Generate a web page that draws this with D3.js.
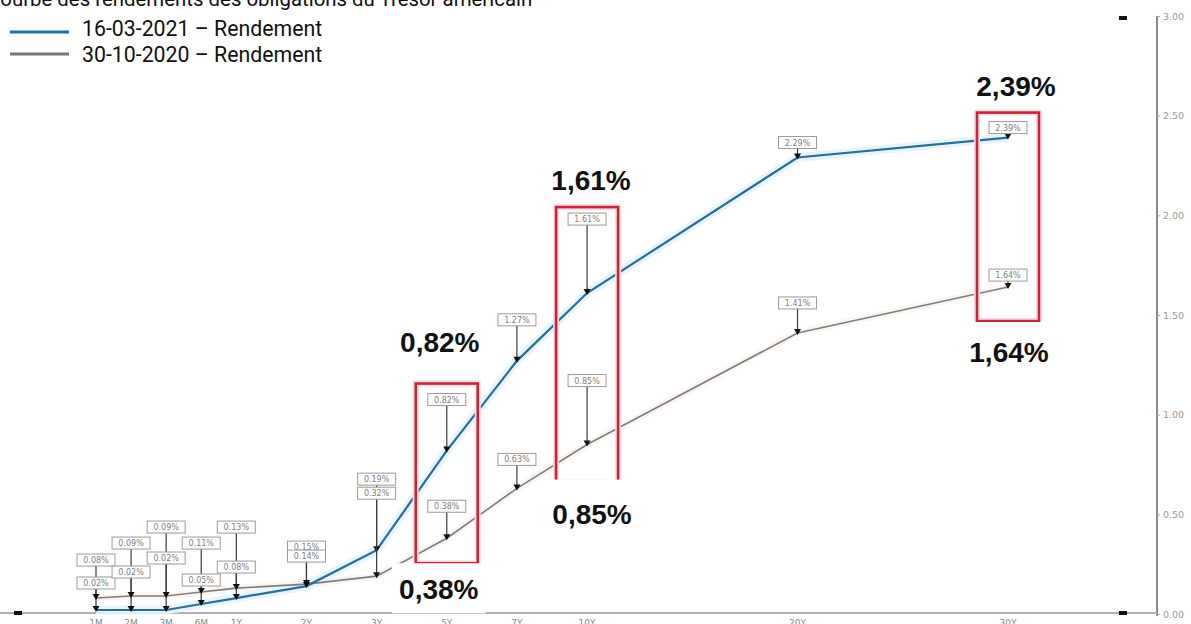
<!DOCTYPE html>
<html>
<head>
<meta charset="utf-8">
<script src="https://cdn.jsdelivr.net/npm/d3@7/dist/d3.min.js"></script>
<style>
  html, body { margin: 0; padding: 0; background: #fff; overflow: hidden; }
  svg { display: block; }
</style>
</head>
<body>
<svg id="chart" width="1191" height="624"></svg>
<script>
// Maturities along the curve and their spacing slot (months compressed, years widened)
const maturities = ["1M", "2M", "3M", "6M", "1Y", "2Y", "3Y", "5Y", "7Y", "10Y", "20Y", "30Y"];
const slots      = [0, 1, 2, 3, 4, 6, 8, 10, 12, 14, 20, 26];

// Yields in %
const yield2021 = [0.02, 0.02, 0.02, 0.05, 0.08, 0.14, 0.32, 0.82, 1.27, 1.61, 2.29, 2.39];
const yield2020 = [0.08, 0.09, 0.09, 0.11, 0.13, 0.15, 0.19, 0.38, 0.63, 0.85, 1.41, 1.64];

// Right axis ticks
const yTicks = [0, 0.5, 1, 1.5, 2, 2.5, 3];

// Series names
const seriesNames = ["16-03-2021 \u2013 Rendement", "30-10-2020 \u2013 Rendement"];
const titleText = "Courbe des rendements des obligations du Tr\u00e9sor am\u00e9ricain";

// Highlighted maturities with their two big callouts
const highlightMaturities = ["5Y", "10Y", "30Y"];

// Layout: how far (px) each small value tag sits above its point
const tagLift2021 = [27, 38, 52, 24, 31, 30, 57, 51, 41, 74, 15, 10];
const tagLift2020 = [38, 53, 69, 49, 61, 37, 97, 32, 29, 64, 30, 12];

const svg = d3.select("#chart");

const x = d3.scaleLinear().domain([0, 26]).range([96, 1008]);
const y = d3.scaleLinear().domain([0, 3]).range([614, 16]);

const blue = "#2a6d96";
const gray = "#7e7e7e";

const fmtSmall = v => v.toFixed(2) + "%";
const fmtBig = v => v.toFixed(2).replace(".", ",") + "%";

// ---- Title & legend ----
svg.append("text")
  .attr("x", -13).attr("y", 6)
  .attr("font-family", "Roboto, sans-serif")
  .attr("font-size", 20.4)
  .attr("fill", "#111")
  .text(titleText);

const legend = svg.append("g");
["#1f6fb2", "#777"].forEach((c, i) => {
  const ly = i === 0 ? 32 : 54;
  legend.append("line")
    .attr("x1", 10).attr("x2", 69).attr("y1", ly).attr("y2", ly)
    .attr("stroke", c).attr("stroke-width", 3);
  legend.append("text")
    .attr("x", 82).attr("y", i === 0 ? 35.5 : 62)
    .attr("font-family", "Roboto, sans-serif")
    .attr("font-size", 21.3)
    .attr("fill", "#111")
    .text(seriesNames[i]);
});

// ---- Right axis ----
const axisX = 1157;
const yAxis = d3.axisRight(y).tickValues(yTicks).tickSize(3).tickFormat(d3.format(".2f"));
const axG = svg.append("g").attr("transform", `translate(${axisX},0)`).call(yAxis);
axG.select(".domain").attr("stroke", "#8a8a8a").attr("stroke-width", 2)
  .attr("d", `M0,${y(3)}V${y(0) + 2}`);
axG.selectAll(".tick line").attr("stroke", "#aaa");
axG.selectAll(".tick text")
  .attr("x", 6)
  .attr("font-family", "DejaVu Sans, sans-serif")
  .attr("font-size", 9.5)
  .attr("fill", "#9a9a9a");

// Baseline
svg.append("line")
  .attr("x1", 0).attr("x2", axisX).attr("y1", y(0) - 1).attr("y2", y(0) - 1)
  .attr("stroke", "#b0b0b0").attr("stroke-width", 2);

// Small handle marks
[[14, y(0) - 3], [1119, y(0) - 3], [1119, 16]].forEach(p => {
  svg.append("rect").attr("x", p[0]).attr("y", p[1]).attr("width", 8).attr("height", 4)
    .attr("fill", "#111");
});

// Bottom maturity labels (partially clipped by the frame)
svg.append("g").selectAll("text").data(maturities).join("text")
  .attr("x", (d, i) => x(slots[i]))
  .attr("y", 626)
  .attr("text-anchor", "middle")
  .attr("font-family", "DejaVu Sans, sans-serif")
  .attr("font-size", 9)
  .attr("fill", "#888")
  .text(d => d);

// ---- Curves ----
const line = d3.line()
  .x((d, i) => x(slots[i]))
  .y(d => y(d));

// soft halos
svg.append("path").datum(yield2020).attr("d", line)
  .attr("fill", "none").attr("stroke", "#f9f1ec").attr("stroke-width", 7).attr("opacity", 0.7);
svg.append("path").datum(yield2021).attr("d", line)
  .attr("fill", "none").attr("stroke", "#e2f4fb").attr("stroke-width", 9).attr("opacity", 0.9);

svg.append("path").datum(yield2020).attr("d", line)
  .attr("fill", "none").attr("stroke", gray).attr("stroke-width", 1.6);
svg.append("path").datum(yield2021).attr("d", line)
  .attr("fill", "none").attr("stroke", blue).attr("stroke-width", 2.2);

// ---- Red highlight boxes ----
const boxSpec = {
  "5Y":  [y(0.82) - 67, y(0.38) + 25],
  "10Y": [y(1.61) - 86, y(0.85) + 38],
  "30Y": [y(2.39) - 25, y(1.64) + 34]
};
highlightMaturities.forEach(m => {
  const i = maturities.indexOf(m);
  const cx = x(slots[i]);
  const [t, b] = boxSpec[m];
  svg.append("rect")
    .attr("x", cx - 31).attr("y", t).attr("width", 62).attr("height", b - t)
    .attr("fill", "none").attr("stroke", "#f6dde0").attr("stroke-width", 6);
  svg.append("rect")
    .attr("x", cx - 31).attr("y", t).attr("width", 62).attr("height", b - t)
    .attr("fill", "none").attr("stroke", "#c9243a").attr("stroke-width", 2.6);
});

// ---- Small value tags with arrows ----
function drawArrows(values, lifts) {
  const g = svg.append("g");
  values.forEach((v, i) => {
    const cx = x(slots[i]);
    const py = y(v);
    const ty = py - lifts[i];
    g.append("line")
      .attr("x1", cx).attr("x2", cx).attr("y1", ty + 5).attr("y2", py - 3)
      .attr("stroke", "#3a3a3a").attr("stroke-width", 1.2);
    g.append("path")
      .attr("d", `M${cx - 3.5},${py - 4}L${cx + 3.5},${py - 4}L${cx},${py + 2}Z`)
      .attr("fill", "#111");
  });
}
drawArrows(yield2021, tagLift2021);
drawArrows(yield2020, tagLift2020);

function drawTagBoxes(values, lifts) {
  const g = svg.append("g");
  values.forEach((v, i) => {
    const cx = x(slots[i]);
    const ty = y(v) - lifts[i];
    g.append("rect")
      .attr("x", cx - 19).attr("y", ty - 6).attr("width", 38).attr("height", 12)
      .attr("fill", "#fff").attr("stroke", "#9a9a9a").attr("stroke-width", 1);
    g.append("text")
      .attr("x", cx).attr("y", ty + 3)
      .attr("text-anchor", "middle")
      .attr("font-family", "DejaVu Sans, sans-serif")
      .attr("font-size", 8)
      .attr("fill", "#808080")
      .text(fmtSmall(v));
  });
}
drawTagBoxes(yield2020, tagLift2020);
drawTagBoxes(yield2021, tagLift2021);

// ---- Big callouts: [series, baseline offset from point, x shift, white pad above] ----
const bigSpec = {
  "5Y":  [[0, -99, -7, 32], [1, 61, -8, 36]],
  "10Y": [[0, -103, 4, 32], [1, 79, 5, 44]],
  "30Y": [[0, -42, 8, 32], [1, 75, 1, 40]]
};
highlightMaturities.forEach(m => {
  const i = maturities.indexOf(m);
  const cx = x(slots[i]);
  bigSpec[m].forEach(([s, off, dx, pad]) => {
    const v = s === 0 ? yield2021[i] : yield2020[i];
    const by = y(v) + off;
    const bx = cx + dx;
    svg.append("rect")
      .attr("x", bx - 47).attr("y", by - pad).attr("width", 94).attr("height", pad + 14)
      .attr("fill", "#fff");
    svg.append("text")
      .attr("x", bx).attr("y", by)
      .attr("text-anchor", "middle")
      .attr("font-family", "Liberation Sans, Arial, sans-serif")
      .attr("font-weight", "bold")
      .attr("font-size", 28)
      .attr("fill", "#111")
      .text(fmtBig(v));
  });
});
</script>
</body>
</html>
